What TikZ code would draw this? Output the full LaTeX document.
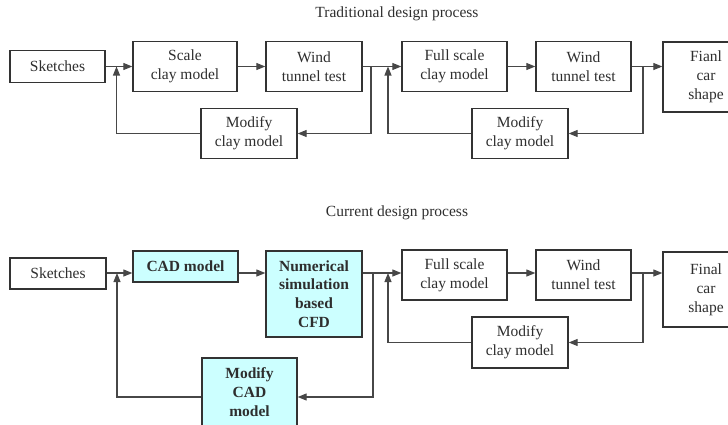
\documentclass[tikz,border=0pt]{standalone}
\usepackage{fontspec}
\setmainfont{Liberation Serif}
\usetikzlibrary{arrows.meta}
\definecolor{boxline}{HTML}{333333}
\definecolor{linkline}{HTML}{474747}
\definecolor{lightcyan}{HTML}{CCFFFF}
\definecolor{ink}{HTML}{2E2E2E}
\tikzset{
  box/.style={draw=boxline, line width=1.3pt, fill=white, inner sep=0pt,
    align=center, text=ink, font=\fontsize{15.5}{19}\selectfont},
  cadbox/.style={box, fill=lightcyan, font=\fontsize{15.5}{18.7}\selectfont\bfseries},
  link/.style={draw=linkline, line width=1.1pt},
  arr/.style={link, -{Triangle[length=9pt,width=7pt]}},
  caption/.style={text=ink, font=\fontsize{15.5}{19}\selectfont, inner sep=0pt}
}
\begin{document}
\begin{tikzpicture}[x=1pt, y=-1pt]
\useasboundingbox (0,0) rectangle (728,424);

% ---------- traditional process ----------
\node[caption] (t1) at (397,14) {Traditional design process};

\node[box, minimum width=95pt,  minimum height=32pt] (sk1)  at (57.5,66.5) {Sketches};
\node[box, minimum width=104pt, minimum height=50pt] (scl1) at (185,66.5)  {Scale\\clay model};
\node[box, minimum width=96pt,  minimum height=50pt] (wt1)  at (314,66.5)  {Wind\\tunnel test};
\node[box, minimum width=105pt, minimum height=50pt] (fs1)  at (454.5,66.5) {Full scale\\clay model};
\node[box, minimum width=95pt,  minimum height=50pt] (wt2)  at (583.5,66.5) {Wind\\tunnel test};
\node[box, minimum width=86pt,  minimum height=70pt] (fin1) at (706,77)    {Fianl\\car\\shape};
\node[box, minimum width=96pt,  minimum height=50pt] (mod1) at (249,133.5) {Modify\\clay model};
\node[box, minimum width=96pt,  minimum height=50pt] (mod2) at (520,133.5) {Modify\\clay model};

\coordinate (a1) at (116.5,66.5);
\coordinate (b1) at (371,66.5);
\coordinate (a2) at (388,66.5);
\coordinate (b2) at (643,66.5);

\draw[arr] (sk1.east) -- (scl1.west);
\draw[arr] (scl1.east) -- (wt1.west);
\draw[arr] (wt1.east) -- (fs1.west);
\draw[arr] (fs1.east) -- (wt2.west);
\draw[arr] (wt2.east) -- (wt2.east -| fin1.west);

\draw[arr] (b1) |- (mod1.east);
\draw[arr] (mod1.west) -| (a1);
\draw[arr] (b2) |- (mod2.east);
\draw[arr] (mod2.west) -| (a2);

% ---------- current process ----------
\node[caption] (t2) at (397,213) {Current design process};

\coordinate (row) at (0,273);

\node[box, minimum width=96pt,  minimum height=31pt] (sk2)  at (58,273.5)   {Sketches};
\node[cadbox, minimum width=105pt, minimum height=31pt] (cad) at (185.5,266.5) {CAD model};
\node[cadbox, minimum width=96pt, minimum height=86pt] (num) at (314,294) {Numerical\\simulation\\based\\CFD};
\node[box, minimum width=105pt, minimum height=50pt] (fs2)  at (454.5,275) {Full scale\\clay model};
\node[box, minimum width=95pt,  minimum height=50pt] (wt3)  at (583.5,275) {Wind\\tunnel test};
\node[box, minimum width=86pt,  minimum height=75pt] (fin2) at (706,289.5) {Final\\car\\shape};
\node[box, minimum width=96pt,  minimum height=51pt] (mod3) at (520,342.5) {Modify\\clay model};
\node[cadbox, minimum width=95pt, minimum height=68pt] (mcad) at (249.5,392) {Modify\\CAD\\model};

\coordinate (a3) at (117,273);
\coordinate (b3) at (373,273);
\coordinate (a4) at (388,273);
\coordinate (b4) at (643,273);
\coordinate (c3) at (373,397);

\draw[arr] (sk2.east |- row) -- (cad.west |- row);
\draw[arr] (cad.east |- row) -- (num.west |- row);
\draw[arr] (num.east |- row) -- (fs2.west |- row);
\draw[arr] (fs2.east |- row) -- (wt3.west |- row);
\draw[arr] (wt3.east |- row) -- (fin2.west |- row);

\draw[arr] (b3) -- (c3) -- (mcad.east |- c3);
\draw[arr] (mcad.west |- c3) -| (a3);
\draw[arr] (b4) |- (mod3.east);
\draw[arr] (mod3.west) -| (a4);
\end{tikzpicture}
\end{document}
